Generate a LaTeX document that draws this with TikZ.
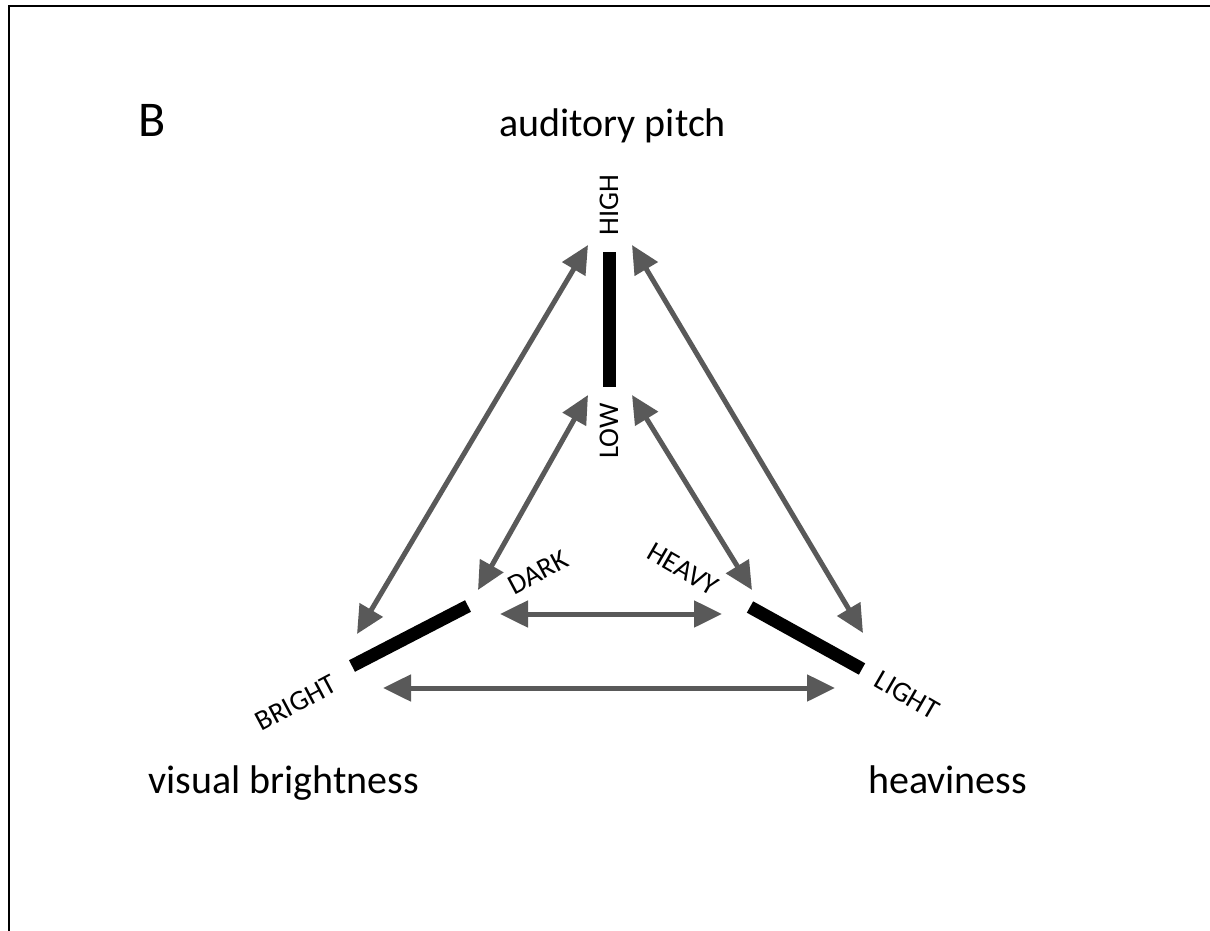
\documentclass[tikz,border=0pt]{standalone}
\usepackage{fontspec}
\setmainfont{Carlito}
\usetikzlibrary{arrows.meta}
\definecolor{arrgray}{RGB}{89,89,89}
\tikzset{
  dbl/.style={draw=arrgray, line width=5pt, {Triangle[length=28pt,width=26pt]}-{Triangle[length=28pt,width=26pt]}},
  bar/.style={draw=black, line width=13pt},
  big/.style={font=\fontsize{40}{48}\selectfont, inner sep=0pt},
  pole/.style={font=\fontsize{28.5}{34}\selectfont, inner sep=0pt},
  panel/.style={font=\fontsize{50}{58}\selectfont, inner sep=0pt}
}
\begin{document}
\begin{tikzpicture}[x=1pt,y=-1pt]
\useasboundingbox (0,0) rectangle (1210,931);
\fill[white] (0,0) rectangle (1210,931);
\draw[line width=2pt] (9,960) -- (9,6) -- (1220,6);

% panel label and dimension names
\node[panel, anchor=base west] (B) at (138,137) {B};
\node[big, anchor=base west] (pitch) at (499,137) {auditory pitch};
\node[big, anchor=base west] (vis) at (148,793) {visual brightness};
\node[big, anchor=base west] (heavy) at (868,793) {heaviness};

% bars
\coordinate (ptop) at (609,252);
\coordinate (pbot) at (609,387);
\coordinate (bl1) at (352,666);
\coordinate (bl2) at (468,606);
\coordinate (br1) at (750,607);
\coordinate (br2) at (862,669);
\draw[bar] (ptop) -- (pbot);
\draw[bar] (bl1) -- (bl2);
\draw[bar] (br1) -- (br2);

% pole labels
\node[pole, rotate=90] (high) at (609,205) {HIGH};
\node[pole, rotate=90] (low) at (609,431) {LOW};
\node[pole, rotate=28] (bright) at (296,703) {BRIGHT};
\node[pole, rotate=28] (dark) at (538,572) {DARK};
\node[pole, rotate=-30] (heavyp) at (683,569) {HEAVY};
\node[pole, rotate=-30] (light) at (907,695) {LIGHT};

% arrow end points
\coordinate (a1) at (357,634);
\coordinate (a2) at (588,245);
\coordinate (b1) at (863,633);
\coordinate (b2) at (632,245);
\coordinate (c1) at (478,590);
\coordinate (c2) at (588,395);
\coordinate (d1) at (752,590);
\coordinate (d2) at (632,395);
\coordinate (e1) at (500,614);
\coordinate (e2) at (722,614);
\coordinate (f1) at (383,688);
\coordinate (f2) at (835,688);

\draw[dbl] (a1) -- (a2);
\draw[dbl] (b1) -- (b2);
\draw[dbl] (c1) -- (c2);
\draw[dbl] (d1) -- (d2);
\draw[dbl] (e1) -- (e2);
\draw[dbl] (f1) -- (f2);
\end{tikzpicture}
\end{document}
